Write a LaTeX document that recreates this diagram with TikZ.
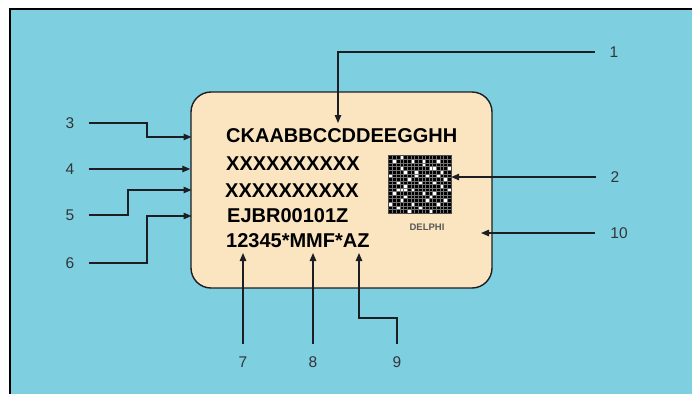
\documentclass[tikz,border=0pt]{standalone}
\usepackage{fontspec}
\setmainfont{Liberation Sans}
\usetikzlibrary{arrows.meta,positioning,calc}
\definecolor{sky}{RGB}{126,207,224}
\definecolor{cream}{RGB}{250,229,192}
\definecolor{ink}{RGB}{28,30,36}
\tikzset{
  >={Triangle[length=8pt,width=6.5pt]},
  callout/.style={->,draw=ink,line width=1.2pt},
  num/.style={font=\fontsize{15.5}{15.5}\selectfont,text=ink!90,inner sep=0pt},
  plateline/.style={font=\fontsize{20}{20}\selectfont\bfseries,text=black,inner sep=0pt,anchor=base west},
  plate/.style={draw=ink,fill=cream,line width=1.4pt,rounded corners=20pt,inner sep=0pt},
}

\begin{document}
\begin{tikzpicture}[x=1pt,y=-1pt]
  \useasboundingbox (0,0) rectangle (692,394);
  \fill[white] (0,0) rectangle (692,394);
  \fill[sky] (10,9) rectangle (692,394);
  \draw[black,line width=2pt] (10,394) -- (10,9) -- (692,9);

  % the label plate
  \node[plate,minimum width=301pt,minimum height=196pt] (plate) at (341.5,190) {};
  \node[plateline] (l1) at (226,142) {CKAABBCCDDEEGGHH};
  \node[plateline] (l2) at (226,170) {XXXXXXXXXX};
  \node[plateline] (l3) at (225,197) {XXXXXXXXXX};
  \node[plateline] (l4) at (227,222) {EJBR00101Z};
  \node[plateline] (l5) at (226,247) {12345*MMF*AZ};

  % data matrix
  \node[fill=black,minimum width=62pt,minimum height=57pt,inner sep=0pt] (qr) at (420,184.5) {};
  \begin{scope}[shift={(qr.north west)}]
    \foreach \c/\r in {3/0,1/1,6/1,9/1,13/1,9/2,3/3,11/3,12/3,16/3,4/4,7/4,14/4,
      0/5,7/5,10/5,13/5,5/6,15/6,2/7,8/7,12/7,4/8,14/8,2/9,3/9,4/9,6/9,16/9,
      1/10,9/10,12/10,4/11,11/11,3/12,10/12,15/12,0/13,6/13,13/13,2/14,8/14,5/15,11/15}
      \fill[white] (\c*3.647,\r*3.5625) rectangle ++(3.647,3.5625);
    \foreach \i in {1,...,16}
      \draw[black!55,line width=0.2pt] (\i*3.647,0) -- (\i*3.647,57);
    \foreach \j in {1,...,15}
      \draw[black!55,line width=0.2pt] (0,\j*3.5625) -- (62,\j*3.5625);
  \end{scope}
  \draw[gray!60!black,line width=0.8pt] (qr.north west) rectangle (qr.south east);
  \node[font=\fontsize{9.5}{9.5}\selectfont\bfseries,text=black!65] (brand) at (427,227) {DELPHI};

  % callout numbers
  \node[num] (n1) at (614,52) {1};
  \node[num] (n2) at (615,177) {2};
  \node[num] (n10) at (619,233) {10};
  \node[num] (n3) at (70,123) {3};
  \node[num] (n4) at (70,169) {4};
  \node[num] (n5) at (70,215) {5};
  \node[num] (n6) at (70,263) {6};
  \node[num] (n7) at (243,362) {7};
  \node[num] (n8) at (313,362) {8};
  \node[num] (n9) at (397,362) {9};

  % bends and arrow ends
  \coordinate (t1) at (338,123);
  \coordinate (t10) at (481,233);
  \coordinate (k3) at (147,137);
  \coordinate (t3) at (191.5,137);
  \coordinate (k5) at (128,190);
  \coordinate (t5) at (191.5,190);
  \coordinate (k6) at (147,216);
  \coordinate (t6) at (191.5,216);
  \coordinate (t7) at (243,253);
  \coordinate (t8) at (313,253);
  \coordinate (k9) at (359,318);
  \coordinate (t9) at (359,253);

  \draw[callout,shorten <=15pt] (n1.west) -| (t1);
  \draw[callout,shorten <=15pt] (n2.west) -- (n2.west -| qr.east);
  \draw[callout,shorten <=15pt] (n10.west) -- (t10);
  \draw[callout,shorten <=14pt] (n3.east) -| (k3) |- (t3);
  \draw[callout,shorten <=14pt] (n4.east) -- (n4.east -| plate.west);
  \draw[callout,shorten <=14pt] (n5.east) -| (k5) |- (t5);
  \draw[callout,shorten <=14pt] (n6.east) -| (k6) |- (t6);
  \draw[callout,shorten <=12pt] (n7.north) -- (t7);
  \draw[callout,shorten <=12pt] (n8.north) -- (t8);
  \draw[callout,shorten <=12pt] (n9.north) |- (k9) -- (t9);
\end{tikzpicture}
\end{document}
